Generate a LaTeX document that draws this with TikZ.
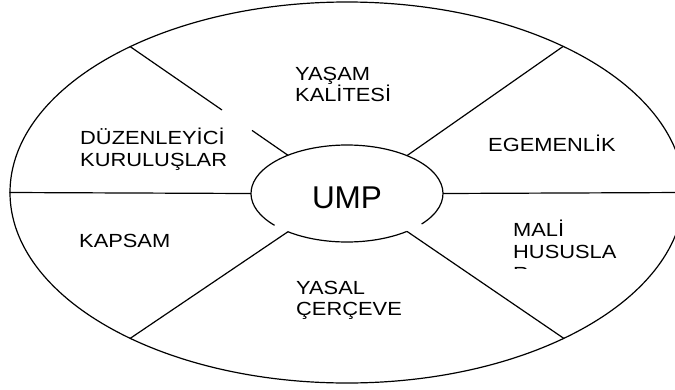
\documentclass[tikz,border=0pt]{standalone}
\usepackage{fontspec}
\setmainfont{Liberation Sans}
\newfontfamily\labfont[FakeStretch=1.15]{Liberation Sans}
\usetikzlibrary{shapes.geometric}
\begin{document}
\begin{tikzpicture}[x=1pt,y=1pt,
  line/.style={line width=1.2pt, draw=black},
  lab/.style={anchor=base west, align=left, inner sep=0pt, font=\labfont\fontsize{19}{21.8}\selectfont}]
\useasboundingbox (0,0) rectangle (675,-389);
\clip (0,0) rectangle (675,-389);
\fill[white] (0,0) rectangle (675,-389);
% outer ellipse
\node[ellipse, line, minimum width=674pt, minimum height=381pt, inner sep=0pt] (outer) at (347,-192.5) {};
% inner ellipse (drawn with two small gaps, as in the reference)
\node[ellipse, minimum width=192pt, minimum height=97pt, inner sep=0pt,
      text height=29.6pt, text depth=0pt, font=\fontsize{31.5}{36}\selectfont] (ump) at (347,-193.5) {UMP};
\draw[line] ([shift={(232:96 and 48.5)}]ump.center) arc[start angle=232, end angle=308.5, x radius=96, y radius=48.5];
\draw[line] ([shift={(321:96 and 48.5)}]ump.center) arc[start angle=321, end angle=581, x radius=96, y radius=48.5];
% spoke end points
\coordinate (tl) at (130,-46.5);
\coordinate (tlg1) at (222,-110);
\coordinate (tlg2) at (252,-130.4);
\coordinate (tli) at (288,-155.3);
\coordinate (tr) at (563,-46.5);
\coordinate (tri) at (407,-155.6);
\coordinate (bl) at (130,-338.5);
\coordinate (bli) at (288,-231.7);
\coordinate (br) at (564,-338.5);
\coordinate (bri) at (407,-231.4);
% connectors
\draw[line] (outer.west) -- (ump.west);
\draw[line] (ump.east) -- (outer.east);
\draw[line] (tl) -- (tlg1);
\draw[line] (tlg2) -- (tli);
\draw[line] (tr) -- (tri);
\draw[line] (bli) -- (bl);
\draw[line] (bri) -- (br);
% labels (anchor = baseline of the last line)
\node[lab] (yasam) at (295,-101.8) {YAŞAM\\KALİTESİ};
\node[lab] (duz) at (80,-166.3) {DÜZENLEYİCİ\\KURULUŞLAR};
\node[lab] (egem) at (488,-151.7) {EGEMENLİK};
\node[lab] (kapsam) at (79,-247.3) {KAPSAM};
\node[lab] (yasal) at (296,-315.8) {YASAL\\ÇERÇEVE};
\begin{scope}
\clip (500,-215) rectangle (640,-268.2);
\node[lab] (mali) at (513,-280.3) {MALİ\\HUSUSLA\\R};
\end{scope}
\end{tikzpicture}
\end{document}
